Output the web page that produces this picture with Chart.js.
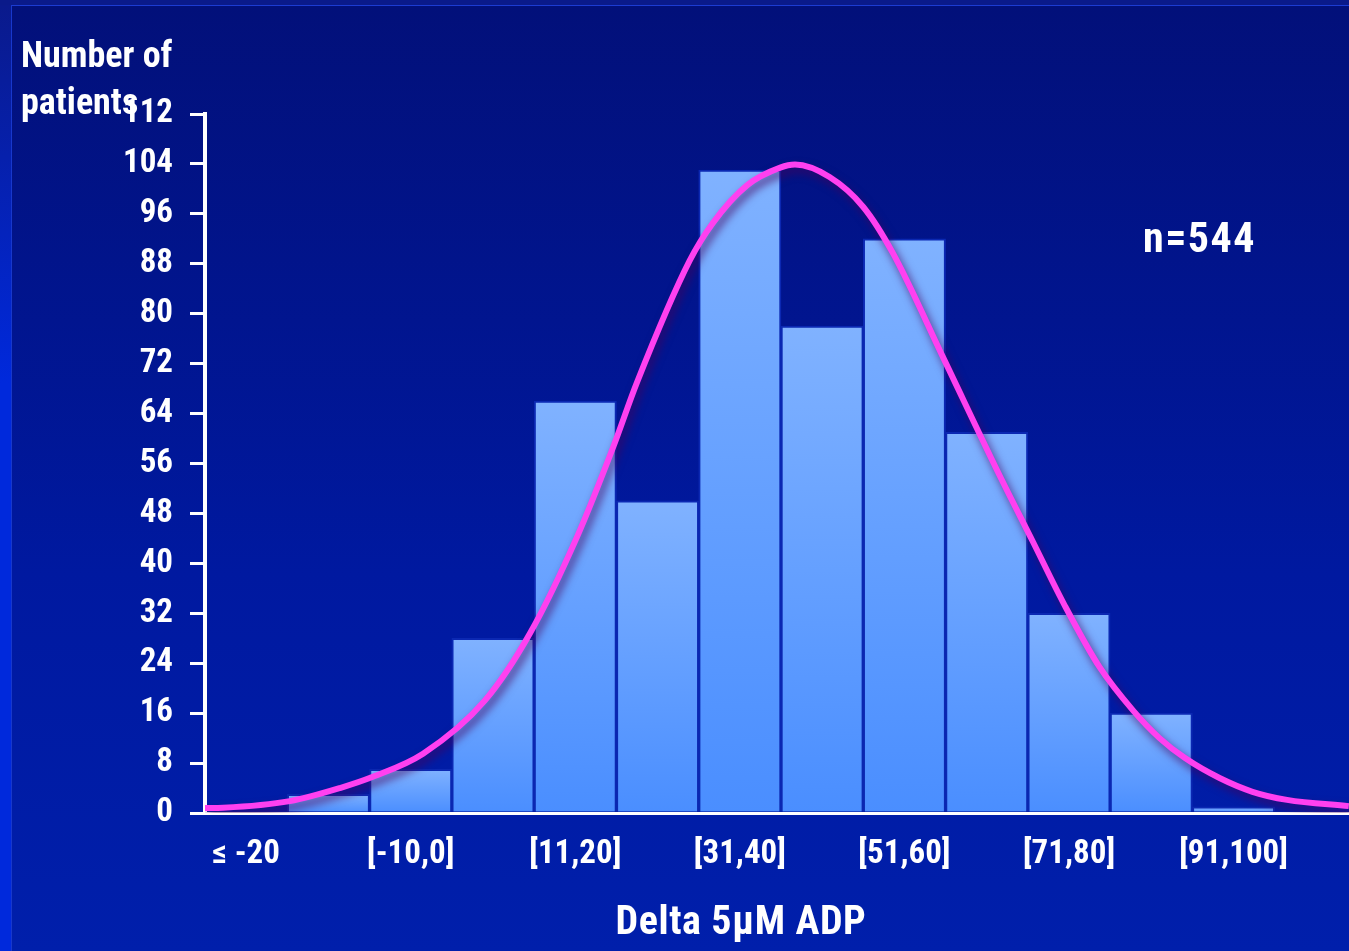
<!DOCTYPE html>
<html>
<head>
<meta charset="utf-8">
<script src="https://cdn.jsdelivr.net/npm/chart.js@4"></script>
<style>
  html, body { margin: 0; padding: 0; width: 1349px; height: 951px; overflow: hidden; background: #0a1a8a; }
  #side { position: absolute; left: 0; top: 5px; width: 12px; height: 946px; background: linear-gradient(#0a1a8c, #0029dc 40%, #0029dc); }
  #panel { position: absolute; left: 11px; top: 5px; width: 1340px; height: 946px;
           background: linear-gradient(#02107a, #0019a0 60%, #001fab);
           border-top: 1px solid #1c3cd2; border-left: 1px solid #1838cc; }
  canvas { position: absolute; left: 0; top: 0; }
</style>
</head>
<body>
<div id="side"></div>
<div id="panel"></div>
<canvas id="chart" width="1360" height="951"></canvas>
<script>
// Histogram bins of Delta 5µM ADP (every other bin is labelled)
const binLabels = ['\u2264 -20', '', '[-10,0]', '', '[11,20]', '', '[31,40]', '', '[51,60]', '', '[71,80]', '', '[91,100]', ''];
const patientCounts = [0, 3, 7, 28, 66, 50, 103, 78, 92, 61, 32, 16, 1, 0];

// Fitted normal curve, sampled along the bin axis (0 = left edge of first bin)
const curveX = [0, 0.22, 1.03, 1.64, 2.04, 2.65, 3.40, 3.95, 4.52, 4.96, 5.25, 5.89, 6.17, 6.59, 6.99, 7.17,
                7.59, 8.00, 8.36, 8.97, 9.66, 10.06, 10.45, 10.87, 11.28, 11.60, 11.91, 12.33, 12.73, 13.15, 13.90];
const curveY = [0.8, 0.85, 1.9, 4.0, 5.8, 9.5, 18.0, 28.8, 44.2, 58.6, 69.0, 88.5, 94.5, 100.6, 103.4, 103.9,
                101.9, 97.1, 89.7, 73.0, 54.0, 43.5, 33.2, 23.4, 16.4, 12.0, 8.8, 5.6, 3.4, 2.1, 1.1];

const yTickStep = 8;
const yMax = 112;
const sampleSize = 'n=544';
const xTitle = 'Delta 5\u00b5M ADP';
const yTitle = ['Number of', 'patients'];

const FONT = "'Roboto Condensed', Roboto, 'Liberation Sans', Arial, sans-serif";

const curvePoints = curveX.map((x, i) => ({ x: x, y: curveY[i] }));

// soft drop shadow under the fitted curve
const curveShadow = {
  id: 'curveShadow',
  beforeDatasetDraw(chart, args) {
    if (args.index !== 0) return;
    const ctx = chart.ctx;
    ctx.save();
    ctx.shadowColor = 'rgba(70, 0, 90, 0.75)';
    ctx.shadowBlur = 9;
    ctx.shadowOffsetX = 3;
    ctx.shadowOffsetY = 5;
  },
  afterDatasetDraw(chart, args) {
    if (args.index !== 0) return;
    chart.ctx.restore();
  }
};

// free-standing titles and the sample size note
const annotations = {
  id: 'annotations',
  afterDraw(chart) {
    const ctx = chart.ctx;
    ctx.save();
    ctx.fillStyle = '#ffffff';
    ctx.textBaseline = 'alphabetic';
    ctx.textAlign = 'left';
    ctx.font = 'bold 36px ' + FONT;
    ctx.fillText(yTitle[0], 21, 67);
    ctx.fillText(yTitle[1], 21, 114);
    ctx.font = 'bold 42px ' + FONT;
    if ('letterSpacing' in ctx) ctx.letterSpacing = '1.5px';
    ctx.fillText(sampleSize, 1143, 252);
    if ('letterSpacing' in ctx) ctx.letterSpacing = '0.6px';
    ctx.textAlign = 'center';
    ctx.font = 'bold 40px ' + FONT;
    ctx.fillText(xTitle, 741, 934);
    ctx.restore();
  }
};

function barGradient(c) {
  const chart = c.chart;
  if (!chart.chartArea || c.raw == null) return '#5e9cff';
  const ys = chart.scales.y;
  const top = ys.getPixelForValue(c.raw);
  const bottom = ys.getPixelForValue(0);
  if (bottom - top < 1) return '#5e9cff';
  const g = chart.ctx.createLinearGradient(0, top, 0, bottom);
  g.addColorStop(0, '#80b2ff');
  g.addColorStop(1, '#4a8eff');
  return g;
}

new Chart(document.getElementById('chart'), {
  type: 'bar',
  data: {
    labels: binLabels,
    datasets: [
      {
        type: 'line',
        data: curvePoints,
        xAxisID: 'xc',
        yAxisID: 'y',
        borderColor: '#ff40f0',
        borderWidth: 6,
        pointRadius: 0,
        fill: false,
        cubicInterpolationMode: 'monotone',
        order: 0
      },
      {
        type: 'bar',
        data: patientCounts,
        xAxisID: 'x',
        yAxisID: 'y',
        backgroundColor: barGradient,
        borderColor: '#0b28b2',
        borderWidth: 2,
        grouped: false,
        barPercentage: 1,
        categoryPercentage: 1,
        order: 1
      }
    ]
  },
  options: {
    responsive: false,
    animation: false,
    layout: { padding: { top: 114, left: 0, right: 3, bottom: 0 } },
    plugins: { legend: { display: false }, tooltip: { enabled: false } },
    scales: {
      x: {
        type: 'category',
        position: 'bottom',
        offset: true,
        z: 1,
        grid: { display: false },
        border: { color: '#ffffff', width: 3 },
        ticks: { color: '#ffffff', font: { family: FONT, size: 33, weight: 'bold' }, padding: 14, maxRotation: 0, autoSkip: false },
        afterFit(s) { s.height = 138; }
      },
      xc: { type: 'linear', display: false, offset: false, min: 0, max: 14 },
      y: {
        min: 0,
        max: yMax,
        ticks: { stepSize: yTickStep, color: '#ffffff', font: { family: FONT, size: 33, weight: 'bold' }, padding: 17 },
        grid: { drawOnChartArea: false, color: '#ffffff', lineWidth: 3, tickLength: 15 },
        border: { color: '#ffffff', width: 4 },
        afterFit(s) { s.width = 205; }
      }
    }
  },
  plugins: [curveShadow, annotations]
});
</script>
</body>
</html>
